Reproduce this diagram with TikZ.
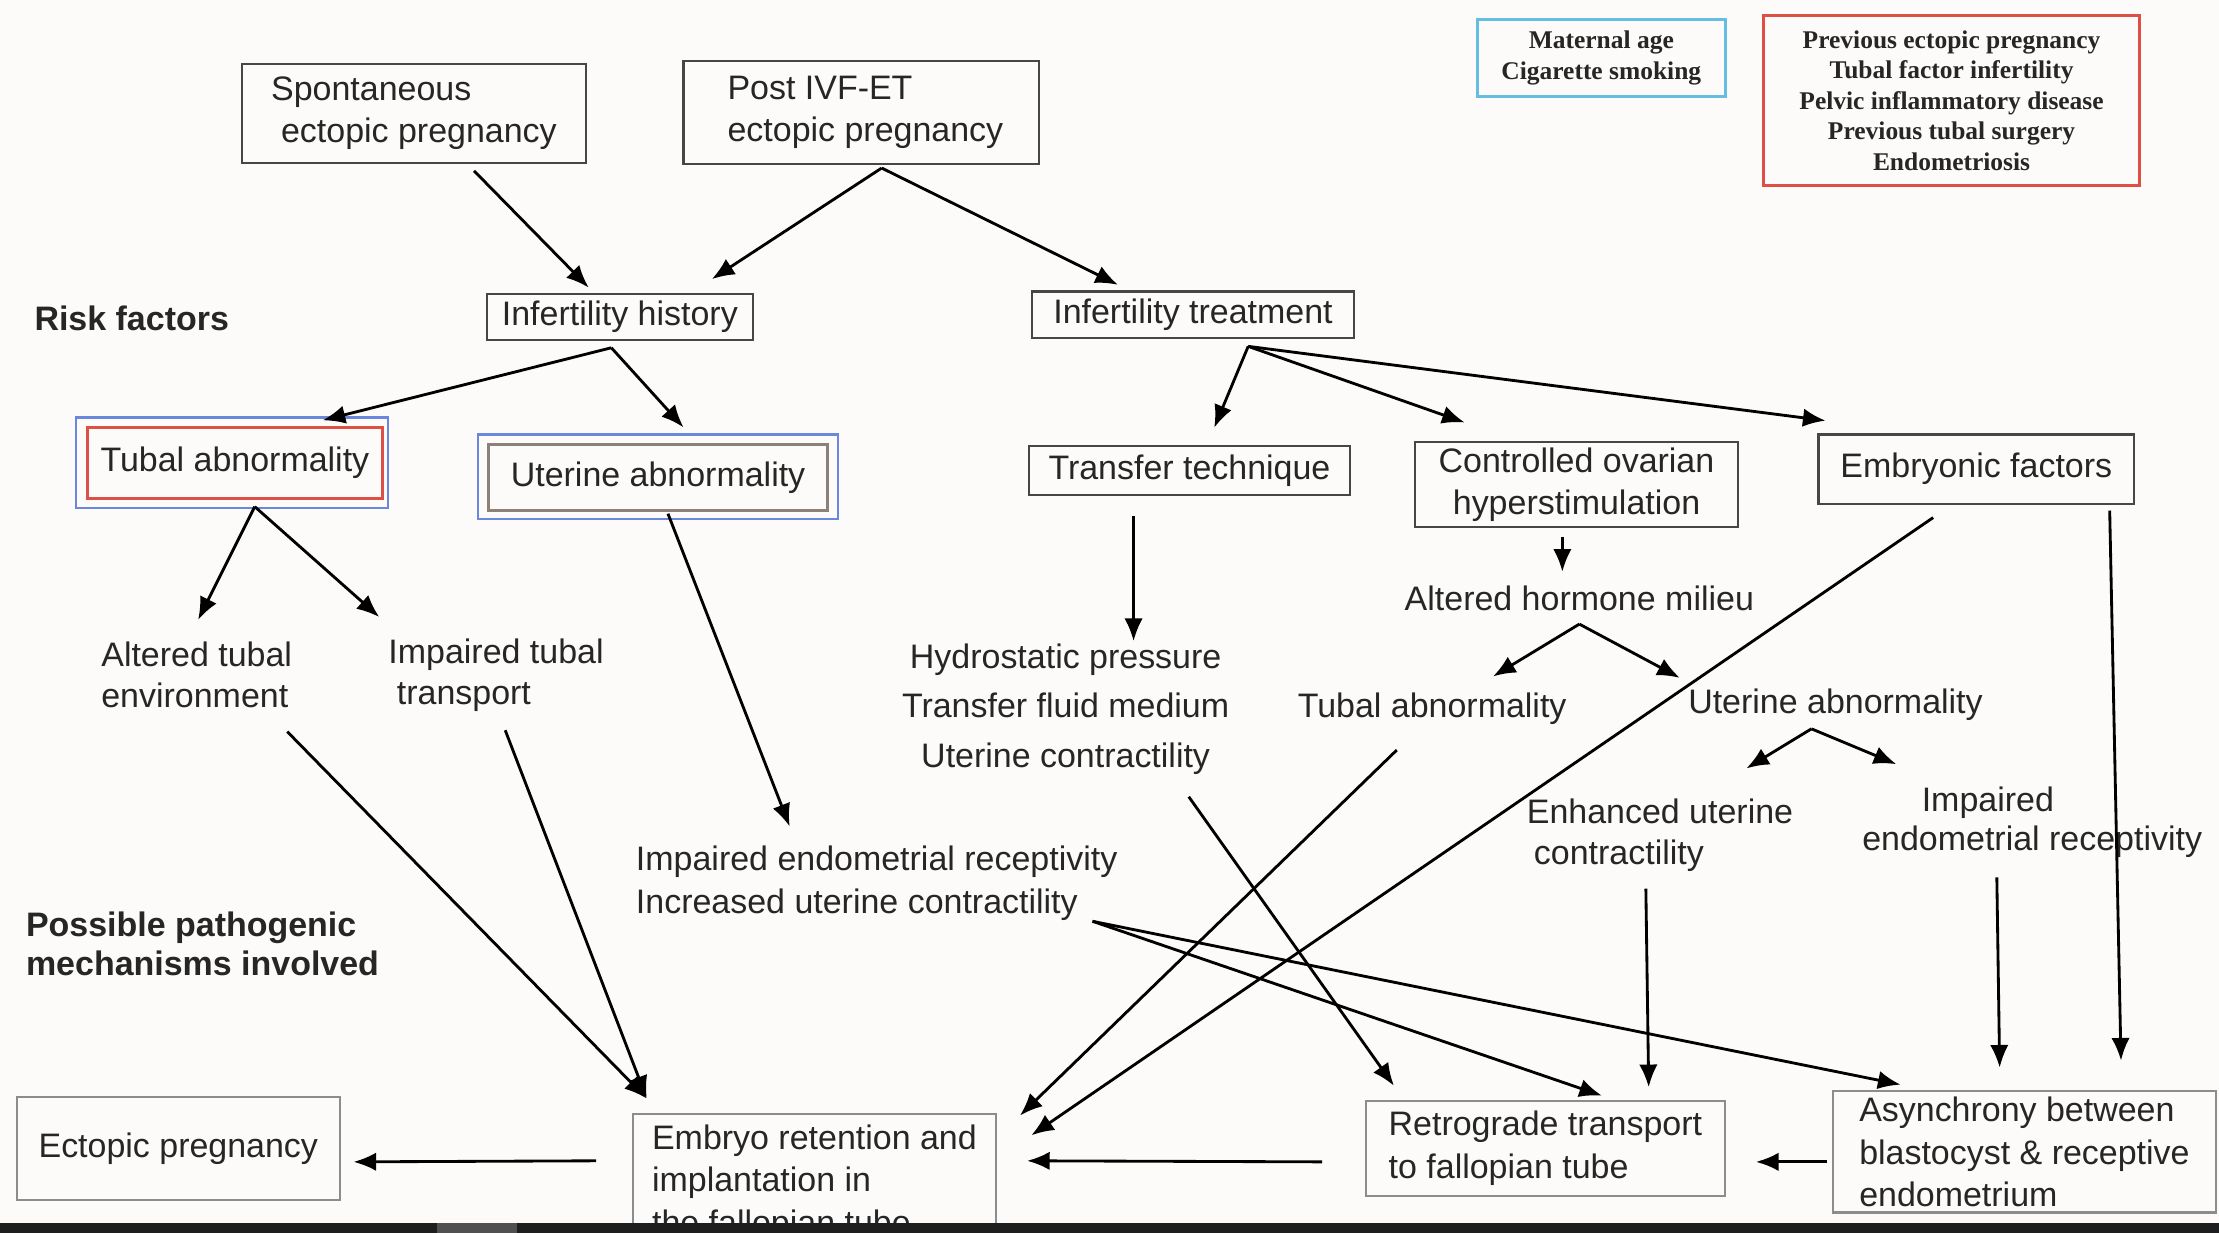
\documentclass[tikz,border=0pt]{standalone}
\usepackage{fontspec}
\setmainfont{Liberation Sans}
\newfontfamily\serifbf{Liberation Serif}
\usetikzlibrary{positioning,arrows.meta}

\definecolor{boxgray}{RGB}{70,70,70}
\definecolor{boxlight}{RGB}{140,140,140}
\definecolor{innergray}{RGB}{140,128,120}
\definecolor{frameblue}{RGB}{105,135,220}
\definecolor{framered}{RGB}{222,80,70}
\definecolor{framecyan}{RGB}{100,190,225}
\definecolor{paper}{RGB}{252,251,249}
\definecolor{barcol}{RGB}{30,30,30}
\definecolor{barseg}{RGB}{80,80,80}

\tikzset{
  every node/.style={font=\fontsize{12}{15}\selectfont, text=black!85},
  stage/.style={draw=boxgray, line width=0.75pt, align=left, inner sep=2pt},
  outcome/.style={stage, draw=boxlight},
  plain/.style={align=left, inner sep=0pt},
  note/.style={line width=1pt, align=center, inner sep=1pt,
    font=\serifbf\bfseries\fontsize{9}{10.8}\selectfont},
  link/.style={-{Latex[length=8pt,width=6.5pt]}, line width=1pt}
}

\begin{document}
\begin{tikzpicture}[x=0.5pt,y=0.5pt]
\useasboundingbox (0,0) rectangle (1568,-871);
\fill[paper] (0,0) rectangle (1568,-871);
\clip (0,0) rectangle (1568,-871);

% origin of the pregnancy
\node[stage, minimum width=121.5pt, minimum height=35pt] (spont) at (292.5,-80) {Spontaneous\\\hspace*{3.5pt}ectopic pregnancy};
\node[stage, minimum width=125.5pt, minimum height=36.5pt] (postivf) at (608.5,-79.5) {\hspace*{3pt}Post IVF-ET\\\hspace*{3pt}ectopic pregnancy};

% legend boxes
\node[note, draw=framecyan, minimum width=87.5pt, minimum height=27pt] (maternal) at (1131.5,-41) {Maternal age\\Cigarette smoking};
\node[note, draw=framered, minimum width=133pt, minimum height=60pt] (priors) at (1379,-71) {Previous ectopic pregnancy\\Tubal factor infertility\\Pelvic inflammatory disease\\Previous tubal surgery\\Endometriosis};

% risk factors
\node[plain, anchor=west, font=\bfseries\fontsize{12}{15}\selectfont] (risk) at (24,-225) {Risk factors};
\node[stage, minimum width=94pt, minimum height=16pt] (infhist) at (438,-224) {Infertility history};
\node[stage, minimum width=114pt, minimum height=16.5pt] (inftreat) at (843,-222.5) {Infertility treatment};

\node[stage, draw=framered, line width=1pt, minimum width=104pt, minimum height=25pt] (tubal) at (166,-327) {Tubal abnormality};
\draw[frameblue, line width=0.75pt] ([shift={(-3.5pt,3pt)}]tubal.north west) rectangle ([shift={(1.5pt,-3pt)}]tubal.south east);
\node[stage, draw=innergray, line width=1pt, minimum width=120pt, minimum height=23.5pt] (uterine) at (465,-337.5) {Uterine abnormality};
\draw[frameblue, line width=0.75pt] ([shift={(-3pt,3pt)}]uterine.north west) rectangle ([shift={(3pt,-2.5pt)}]uterine.south east);

\node[stage, minimum width=113.5pt, minimum height=17.5pt] (transfer) at (840.5,-332.5) {Transfer technique};
\node[stage, align=center, minimum width=114pt, minimum height=29.5pt] (coh) at (1114,-342.5) {Controlled ovarian\\hyperstimulation};
\node[stage, minimum width=111.5pt, minimum height=24.5pt] (embf) at (1396.5,-331.5) {Embryonic factors};

% mechanisms
\node[plain, font=\fontsize{12}{14.5}\selectfont] (alttubal) at (139,-477) {Altered tubal\\environment};
\node[plain, font=\fontsize{12}{14.5}\selectfont] (imptubal) at (350.5,-477) {Impaired tubal\\\hspace*{3pt}transport};
\node[plain, align=center, font=\fontsize{12}{17.5}\selectfont] (hydro) at (753,-501) {Hydrostatic pressure\\Transfer fluid medium\\Uterine contractility};
\node[plain] (hormone) at (1116,-423) {Altered hormone milieu};
\node[plain] (tubal2) at (1012,-501) {Tubal abnormality};
\node[plain] (uterine2) at (1297,-498) {Uterine abnormality};
\node[plain, font=\fontsize{12}{14.5}\selectfont] (enhanced) at (1173,-590) {Enhanced uterine\\\hspace*{2.5pt}contractility};
\node[plain, font=\fontsize{12}{14}\selectfont] (impendo) at (1436,-581) {\hspace*{21pt}Impaired\\endometrial receptivity};
\node[plain, anchor=west] (incr) at (449,-624) {Impaired endometrial receptivity\\Increased uterine contractility};
\node[plain, anchor=west, font=\bfseries\fontsize{12}{14}\selectfont] (possible) at (18,-667) {Possible pathogenic\\mechanisms involved};

% outcomes
\node[outcome, minimum width=114pt, minimum height=36.5pt] (ectopic) at (126,-811.5) {Ectopic pregnancy};
\node[outcome, minimum width=128.5pt, minimum height=49pt] (embryo) at (575.5,-836) {Embryo retention and\\implantation in\\the fallopian tube};
\node[outcome, minimum width=127pt, minimum height=33.5pt] (retro) at (1092,-811.5) {Retrograde transport\\to fallopian tube};
\node[outcome, minimum width=135.5pt, minimum height=42pt] (async) at (1430.5,-814) {Asynchrony between\\blastocyst \& receptive\\endometrium};

% top part
\draw[link] ([xshift=21.25pt,yshift=-2.5pt]spont.south) -- ([xshift=-11pt,yshift=2pt]infhist.north);
\draw[link] ([xshift=7.25pt,yshift=-1pt]postivf.south) -- ([xshift=32.5pt,yshift=5pt]infhist.north);
\draw[link] ([xshift=7.25pt,yshift=-1pt]postivf.south) -- ([xshift=-26.5pt,yshift=2pt]inftreat.north);
\draw[link] ([xshift=-3pt,yshift=-2.5pt]infhist.south) -- ([xshift=31pt,yshift=2pt]tubal.north);
\draw[link] ([xshift=-3pt,yshift=-2.5pt]infhist.south) -- ([xshift=9pt,yshift=5.5pt]uterine.north);
\draw[link] ([xshift=19.5pt,yshift=-2.5pt]inftreat.south) -- ([xshift=8.75pt,yshift=6pt]transfer.north);
\draw[link] ([xshift=19.5pt,yshift=-2.5pt]inftreat.south) -- ([xshift=-39.5pt,yshift=6.5pt]coh.north);
\draw[link] ([xshift=19.5pt,yshift=-2.5pt]inftreat.south) -- ([xshift=-53.25pt,yshift=4.5pt]embf.north);

% middle part
\draw[link] ([xshift=7pt,yshift=-2.5pt]tubal.south) -- ([xshift=0.5pt,yshift=19.5pt]alttubal.center);
\draw[link] ([xshift=7pt,yshift=-2.5pt]tubal.south) -- ([xshift=-41.25pt,yshift=20.5pt]imptubal.center);
\draw[link] ([xshift=3.5pt,yshift=-0.5pt]uterine.south) -- ([xshift=54.5pt,yshift=20pt]incr.west);
\draw[link] ([xshift=-19.75pt,yshift=-7pt]transfer.south) -- ([xshift=24pt,yshift=24pt]hydro.center);
\draw[link] ([xshift=-5pt,yshift=-3pt]coh.south) -- ([xshift=-6pt,yshift=9.5pt]hormone.center);
\draw[link] ([yshift=-9pt]hormone.center) -- ([xshift=21.5pt,yshift=11.5pt]tubal2.center);
\draw[link] ([yshift=-9pt]hormone.center) -- ([xshift=-55pt,yshift=9.5pt]uterine2.center);
\draw[link] ([xshift=-8.5pt,yshift=-8.5pt]uterine2.center) -- ([xshift=30.5pt,yshift=23.5pt]enhanced.center);
\draw[link] ([xshift=-8.5pt,yshift=-8.5pt]uterine2.center) -- ([xshift=-48pt,yshift=20.5pt]impendo.center);

% towards the outcomes
\draw[link] ([xshift=32pt,yshift=-20pt]alttubal.center) -- ([xshift=-59.25pt,yshift=5pt]embryo.north);
\draw[link] ([xshift=3.25pt,yshift=-19.5pt]imptubal.center) -- ([xshift=-59.25pt,yshift=5pt]embryo.north);
\draw[link] ([xshift=-12.5pt,yshift=-14.5pt]tubal2.center) -- ([xshift=8pt,yshift=-1pt]embryo.north east);
\draw[link] ([xshift=-15.25pt,yshift=-4.5pt]embf.south) -- ([xshift=12pt,yshift=-8pt]embryo.north east);
\draw[link] ([xshift=-15pt,yshift=-4.75pt]retro.west) -- ([xshift=10.5pt,yshift=-17pt]embryo.north east);
\draw[link] ([xshift=-12.5pt,yshift=-17pt]embryo.north west) -- ([xshift=4.5pt,yshift=-4.75pt]ectopic.east);
\draw[link] ([xshift=43.5pt,yshift=-31pt]hydro.center) -- ([xshift=-53.5pt,yshift=5pt]retro.north);
\draw[link] ([xshift=161.5pt,yshift=-13.5pt]incr.west) -- ([xshift=20pt,yshift=1.5pt]retro.north);
\draw[link] ([xshift=161.5pt,yshift=-13.5pt]incr.west) -- ([xshift=-43.75pt,yshift=2pt]async.north);
\draw[link] ([xshift=-5pt,yshift=-19pt]enhanced.center) -- ([xshift=36.5pt,yshift=4.5pt]retro.north);
\draw[link] ([xshift=-12.5pt,yshift=-19.5pt]impendo.center) -- ([xshift=-8.75pt,yshift=8pt]async.north);
\draw[link] ([xshift=-9pt,yshift=-2pt]embf.south east) -- ([xshift=-34pt,yshift=10.5pt]async.north east);
\draw[link] ([xshift=-1.5pt,yshift=-3.5pt]async.west) -- ([xshift=10.5pt,yshift=-4.75pt]retro.east);

% dark strip along the bottom edge
\fill[barcol] (0,-864) rectangle (1568,-871);
\fill[barseg] (309,-864) rectangle (365,-871);
\end{tikzpicture}
\end{document}
